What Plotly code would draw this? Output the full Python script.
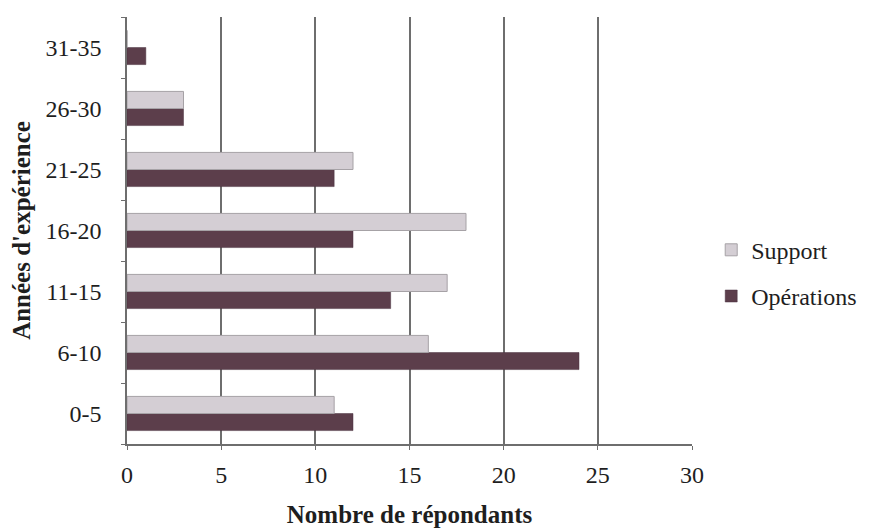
import plotly.graph_objects as go

categories = ["0-5", "6-10", "11-15", "16-20", "21-25", "26-30", "31-35"]
support = [11, 16, 17, 18, 12, 3, 0]
operations = [12, 24, 14, 12, 11, 3, 1]
x_ticks = [0, 5, 10, 15, 20, 25, 30]

FONT = "'Liberation Serif', 'Times New Roman', 'DejaVu Serif', serif"
INK = "#1e1e1e"
GRID = "#6e6e6e"

fig = go.Figure()
fig.add_trace(go.Bar(
    y=categories, x=operations, orientation="h", name="Opérations",
    legendgroup="op", legendrank=2,
    marker=dict(color="#5c3e4b", line=dict(color="#4a3340", width=0.5)),
))
fig.add_trace(go.Bar(
    y=categories, x=support, orientation="h", name="Support",
    legendgroup="sup", legendrank=1,
    marker=dict(color="#d4ced4", line=dict(color="#a6a2a6", width=1)),
))

fig.update_layout(
    width=884, height=528,
    margin=dict(l=127, r=192, t=17, b=84),
    paper_bgcolor="white", plot_bgcolor="white",
    barmode="group", bargap=0.44, bargroupgap=0,
    font=dict(family=FONT, size=24, color=INK),
    showlegend=True,
    legend=dict(
        x=1.034, y=0.40, xanchor="left", yanchor="middle",
        traceorder="grouped", tracegroupgap=12,
        font=dict(family=FONT, size=24, color=INK),
        itemwidth=30,
    ),
    xaxis=dict(
        range=[0, 30], tickvals=x_ticks, ticktext=[str(v) for v in x_ticks],
        showgrid=True, gridcolor=GRID, gridwidth=1.6,
        zeroline=False, showline=True, linecolor=GRID, linewidth=1.6,
        ticks="outside", ticklen=4, tickcolor=GRID, ticklabelstandoff=4,
        tickfont=dict(family=FONT, size=24, color=INK),
        automargin=False,
        title=dict(text="<b>Nombre de répondants</b>", font=dict(family=FONT, size=25, color=INK), standoff=26),
    ),
    yaxis=dict(
        type="category", categoryorder="array", categoryarray=categories,
        showgrid=False, showline=True, linecolor=GRID, linewidth=1.6,
        ticks="outside", tickson="boundaries", ticklen=4, tickcolor=GRID,
        ticklabelstandoff=19, automargin=False,
        tickfont=dict(family=FONT, size=24, color=INK),
        title=dict(text="<b>Années d'expérience</b>", font=dict(family=FONT, size=25, color=INK), standoff=8),
    ),
)

fig.write_html("out.html")
